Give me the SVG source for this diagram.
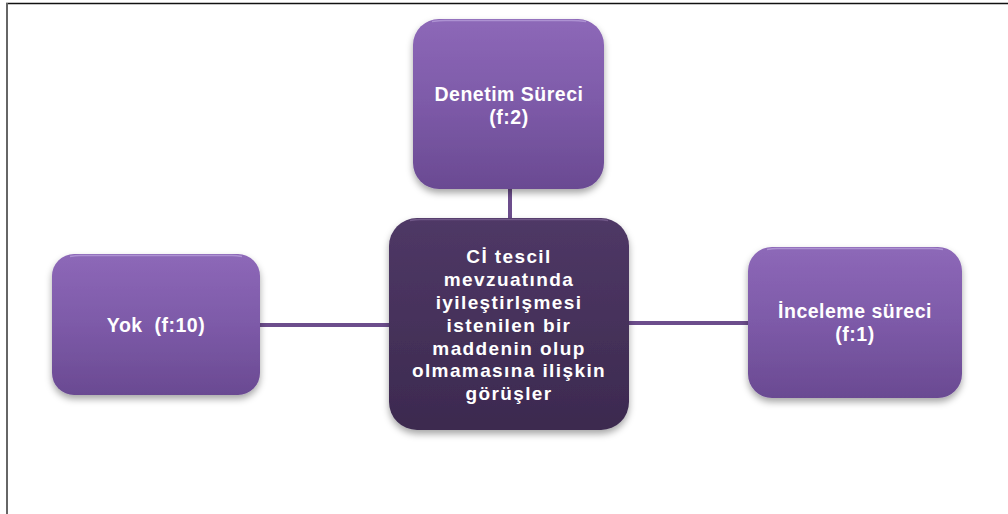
<svg xmlns="http://www.w3.org/2000/svg" width="1008" height="514" viewBox="0 0 1008 514">
  <defs>
    <linearGradient id="gLight" x1="0" y1="0" x2="0" y2="1">
      <stop offset="0" stop-color="#8d68b8"/>
      <stop offset="0.5" stop-color="#7d5aa8"/>
      <stop offset="1" stop-color="#6a4a92"/>
    </linearGradient>
    <linearGradient id="gDark" x1="0" y1="0" x2="0" y2="1">
      <stop offset="0" stop-color="#4f3866"/>
      <stop offset="1" stop-color="#3c2a4f"/>
    </linearGradient>
    <filter id="shadow" x="-20%" y="-20%" width="140%" height="150%">
      <feDropShadow dx="0" dy="4" stdDeviation="3.5" flood-color="#000" flood-opacity="0.35"/>
    </filter>
  </defs>
  <style>
    .light { fill: url(#gLight); filter: url(#shadow); }
    .dark { fill: url(#gDark); filter: url(#shadow); }
    .hl { fill: none; stroke: #b59cd8; stroke-width: 1.5; opacity: 0.8; }
    .hld { fill: none; stroke: #7a6292; stroke-width: 1.5; opacity: 0.8; }
    .lbl { font-family: "Liberation Sans", Arial, sans-serif; font-weight: bold; font-size: 19.5px; letter-spacing: 0.5px; fill: #ffffff; text-anchor: middle; }
    .ctr { font-size: 19px; letter-spacing: 1.4px; }
    .conn { stroke: #6c4d8c; stroke-width: 4; fill: none; }
    .frame { stroke: #111; stroke-width: 1.5; fill: none; }
    .frameL { stroke: #666; stroke-width: 2; fill: none; }
  </style>

  <rect x="0" y="0" width="1008" height="514" fill="#ffffff"/>
  <line class="frame" x1="6" y1="3.5" x2="1008" y2="3.5"/>
  <line class="frameL" x1="7" y1="3" x2="7" y2="514"/>

  <g id="connectors">
    <line class="conn" x1="510" y1="186" x2="510" y2="220"/>
    <line class="conn" x1="258" y1="325" x2="391" y2="325"/>
    <line class="conn" x1="627" y1="323" x2="750" y2="323"/>
  </g>

  <g id="node-top">
    <rect class="light" x="413" y="19" width="191" height="170" rx="26" ry="26"/>
    <path class="hl" d="M 432 21.5 Q 440 20.5 445 20.5 L 572 20.5 Q 578 20.5 586 21.5"/>
    <text class="lbl" x="509" y="101"><tspan x="509" y="101">Denetim Süreci</tspan><tspan x="509" y="124">(f:2)</tspan></text>
  </g>

  <g id="node-left">
    <rect class="light" x="52" y="254" width="208" height="141" rx="22" ry="22"/>
    <path class="hl" d="M 70 256.5 Q 76 255.5 80 255.5 L 232 255.5 Q 236 255.5 242 256.5"/>
    <text class="lbl" x="156" y="332" xml:space="preserve">Yok  (f:10)</text>
  </g>

  <g id="node-right">
    <rect class="light" x="748" y="247" width="214" height="151" rx="24" ry="24"/>
    <path class="hl" d="M 767 249.5 Q 773 248.5 777 248.5 L 933 248.5 Q 937 248.5 943 249.5"/>
    <text class="lbl" x="855" y="318"><tspan x="855" y="318">İnceleme süreci</tspan><tspan x="855" y="341">(f:1)</tspan></text>
  </g>

  <g id="node-center">
    <rect class="dark" x="389" y="218" width="240" height="212" rx="28" ry="28"/>
    <path class="hld" d="M 410 220.5 Q 416 219.5 420 219.5 L 598 219.5 Q 602 219.5 608 220.5"/>
    <text class="lbl ctr" x="509" y="263"><tspan x="509" y="263">Cİ tescil</tspan><tspan x="509" y="286">mevzuatında</tspan><tspan x="509" y="309">iyileştirlşmesi</tspan><tspan x="509" y="332">istenilen bir</tspan><tspan x="509" y="355">maddenin olup</tspan><tspan x="509" y="377">olmamasına ilişkin</tspan><tspan x="509" y="400">görüşler</tspan></text>
  </g>
</svg>
